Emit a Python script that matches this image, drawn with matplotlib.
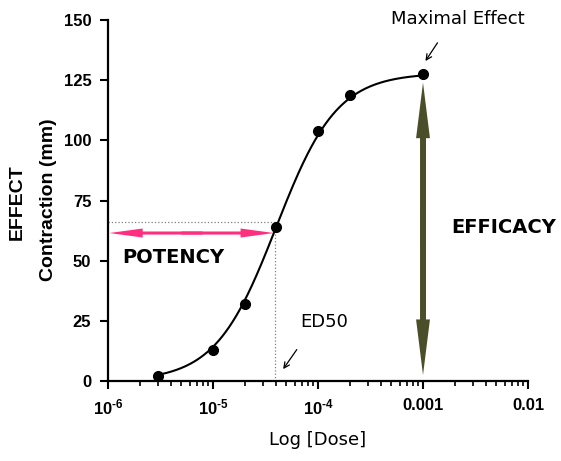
import numpy as np
import matplotlib.pyplot as plt
from matplotlib.patches import FancyArrowPatch
from matplotlib.ticker import FixedLocator, FixedFormatter, LogLocator, NullFormatter

# dose-response data
dose = [3e-6, 1e-5, 2e-5, 4e-5, 1e-4, 2e-4, 1e-3]
effect = [2, 13, 32, 64, 104, 119, 127.5]

# fitted sigmoid (Hill) parameters
top = 128
ec50 = 4e-5
hill = 1.5

x_ticks = [1e-6, 1e-5, 1e-4, 1e-3, 1e-2]
x_labels = [r'$\mathbf{10^{‐6}}$', r'$\mathbf{10^{‐5}}$', r'$\mathbf{10^{‐4}}$', '0.001', '0.01']
y_ticks = [0, 25, 50, 75, 100, 125, 150]

plt.rcParams['mathtext.fontset'] = 'custom'
plt.rcParams['mathtext.bf'] = 'Liberation Sans:bold'
plt.rcParams['mathtext.rm'] = 'Liberation Sans'
plt.rcParams['mathtext.sf'] = 'Liberation Sans'

fig = plt.figure(figsize=(5.61, 4.61), dpi=100)
ax = fig.add_axes([0.1925, 0.1735, 0.7487, 0.783])

# fitted curve
xs = np.logspace(np.log10(2.8e-6), np.log10(1e-3), 300)
ys = top / (1 + (ec50 / xs) ** hill)
ax.plot(xs, ys, color='black', lw=1.5, zorder=3)
ax.plot(dose, effect, 'o', color='black', ms=7, zorder=4)

# dotted guide lines at ED50
ax.plot([1e-6, ec50], [66, 66], ls=':', color='gray', lw=0.9)
ax.plot([ec50 * 0.97, ec50 * 0.97], [0, 64], ls=':', color='gray', lw=0.9)


def double_arrow(p1, p2, start1, start2, color, hl, hw, tw):
    # two single-headed arrows drawn outward, overlapping in the middle
    for st, end in ((start1, p1), (start2, p2)):
        a = FancyArrowPatch(st, end, arrowstyle=f'simple,head_length={hl},head_width={hw},tail_width={tw}',
                            mutation_scale=1, color=color, lw=0, shrinkA=0, shrinkB=0, zorder=2)
        ax.add_patch(a)


# potency arrow
double_arrow((1.03e-6, 61.5), (3.8e-5, 61.5), (8e-6, 61.5), (5e-6, 61.5), '#ff2f7f', 24, 6.5, 2.2)
# efficacy arrow
double_arrow((1e-3, 2.5), (1e-3, 124), (1e-3, 70), (1e-3, 56), '#4b4f29', 40, 10, 4.3)

ax.text(4.2e-6, 51.5, 'POTENCY', fontsize=14, fontweight='bold', ha='center', va='center',
        family='DejaVu Sans')
ax.text(5.9e-3, 64, 'EFFICACY', fontsize=14, fontweight='bold', ha='center', va='center',
        family='DejaVu Sans', clip_on=False)
ax.text(6.8e-5, 24.5, 'ED50', fontsize=13, ha='left', va='center', family='DejaVu Sans')
ax.text(2.15e-3, 150.5, 'Maximal Effect', fontsize=13, ha='center', va='center',
        family='DejaVu Sans', clip_on=False)

ax.annotate('', xy=(4.5e-5, 4), xytext=(6.5e-5, 14),
            arrowprops=dict(arrowstyle='->', color='black', lw=0.9))
ax.annotate('', xy=(1.02e-3, 132), xytext=(1.42e-3, 141.5),
            arrowprops=dict(arrowstyle='->', color='black', lw=0.9), annotation_clip=False)

ax.set_xscale('log')
ax.set_xlim(1e-6, 1e-2)
ax.set_ylim(0, 150)
ax.xaxis.set_major_locator(FixedLocator(x_ticks))
ax.xaxis.set_major_formatter(FixedFormatter(x_labels))
ax.xaxis.set_minor_locator(LogLocator(base=10, subs=np.arange(2, 10)))
ax.xaxis.set_minor_formatter(NullFormatter())
ax.set_yticks(y_ticks)

for s in ['top', 'right']:
    ax.spines[s].set_visible(False)
for s in ['left', 'bottom']:
    ax.spines[s].set_linewidth(1.6)

ax.tick_params(axis='both', which='major', length=6, width=1.5, direction='out', pad=6)
ax.tick_params(axis='x', which='minor', length=3.5, width=1.2)
for lab in ax.get_xticklabels() + ax.get_yticklabels():
    lab.set_family('Liberation Sans')
    lab.set_fontweight('bold')
    lab.set_fontsize(12)

ax.set_xlabel('Log [Dose]', fontsize=13, family='DejaVu Sans', labelpad=10)
fig.text(0.030, 0.562, 'EFFECT', rotation=90, fontsize=14, fontweight='bold',
         ha='center', va='center', family='Liberation Sans')
fig.text(0.086, 0.566, 'Contraction (mm)', rotation=90, fontsize=14, fontweight='bold',
         ha='center', va='center', family='Liberation Sans')

fig.savefig('out.png', dpi=100)
